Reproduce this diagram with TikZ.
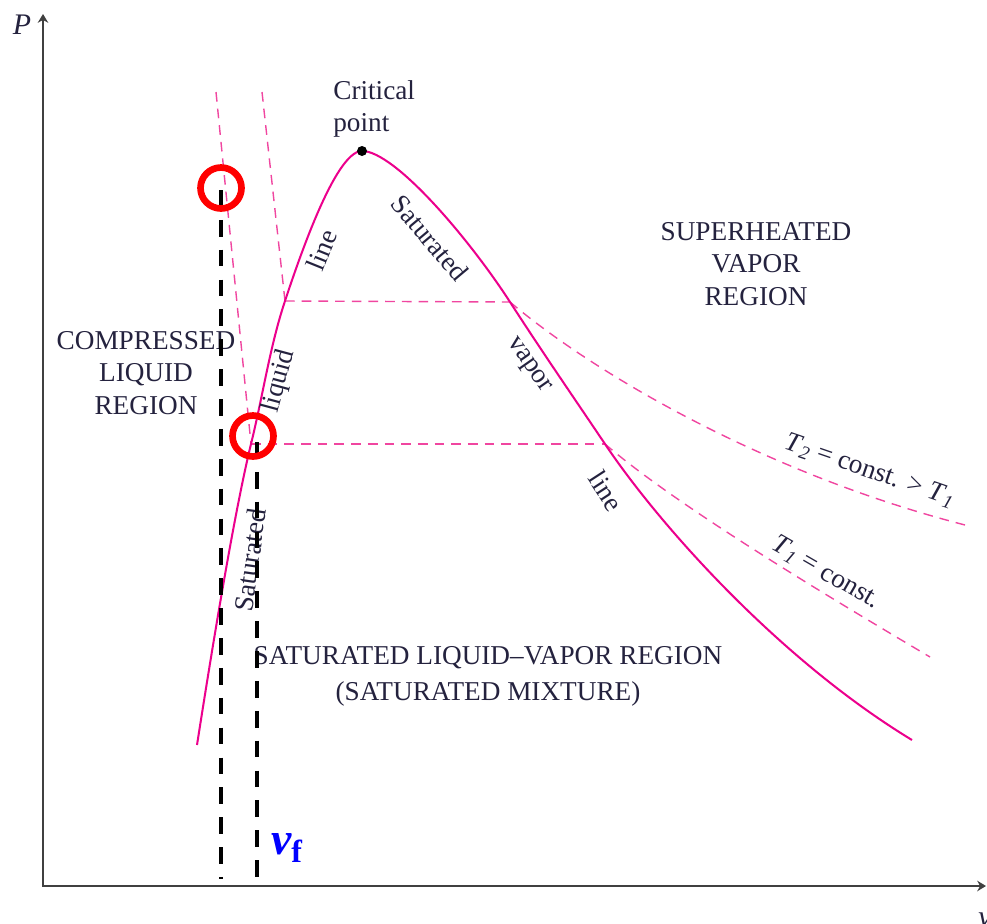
\documentclass[tikz,border=0pt]{standalone}
\usepackage{fontspec}
\setmainfont{Liberation Serif}
\usetikzlibrary{arrows.meta,positioning}

\definecolor{domepink}{RGB}{236,0,140}
\definecolor{isopink}{RGB}{240,70,160}
\definecolor{labelink}{RGB}{36,34,62}
\definecolor{markred}{RGB}{255,0,0}

\tikzset{
  axis/.style={line width=1.1pt, draw=black!75, line join=miter},
  dome/.style={line width=1.15pt, draw=domepink},
  isotherm/.style={line width=0.8pt, draw=isopink, dash pattern=on 5.5pt off 4pt},
  guide/.style={line width=2.3pt, draw=black, dash pattern=on 9.5pt off 7.5pt},
  marker/.style={circle, line width=3.8pt, draw=markred, minimum size=0.82cm, inner sep=0pt},
  region/.style={font=\fontsize{15.5}{18.7}\selectfont, text=labelink, align=center, inner sep=0pt},
  tag/.style={font=\fontsize{15.5}{18.7}\selectfont, text=labelink, inner sep=0pt},
}

\begin{document}
\begin{tikzpicture}[x=0.02cm, y=-0.02cm]
    \useasboundingbox (0,0) rectangle (987,923);

    % Key points of the diagram
    \coordinate (ptop) at (43,14);
    \coordinate (corner) at (43,886);
    \coordinate (vend) at (986,886);
    \coordinate (crit) at (362,151);
    \coordinate (liqtwo) at (285,301);
    \coordinate (vaptwo) at (510,302);
    \coordinate (liqone) at (251,444);
    \coordinate (vapone) at (605,444);
    \coordinate (lowtop) at (216,92);
    \coordinate (hightop) at (262,92);
    \coordinate (liqend) at (197,745);
    \coordinate (vapend) at (912,740);
    \coordinate (twoend) at (965,525);
    \coordinate (oneend) at (930,657);

    % Axes
    \draw[axis, {Stealth[length=5pt,width=6pt]}-{Stealth[length=5pt,width=6pt]}] (ptop) -- (corner) -- (vend);
    \node[tag, font=\fontsize{17}{20}\selectfont\itshape] (plabel) at (22,25) {P};
    \node[tag, font=\fontsize{17}{20}\selectfont\itshape] (vlabel) at (985,920) {v};

    % Isotherms in the compressed liquid region
    \draw[isotherm] (lowtop) -- (liqone);
    \draw[isotherm] (hightop) -- (liqtwo);

    % Isotherms across the mixture region
    \draw[isotherm] (liqtwo) -- (vaptwo);
    \draw[isotherm] (liqone) -- (vapone);

    % Isotherms in the superheated region
    \draw[isotherm] (vaptwo) .. controls (590,370) and (760,472) .. (twoend);
    \draw[isotherm] (vapone) .. controls (670,500) and (800,580) .. (oneend);

    % Saturation dome
    \draw[dome] (liqend) .. controls (215,630) and (235,510) .. (liqone)
        .. controls (263,395) and (270,346) .. (liqtwo)
        .. controls (310,225) and (340,151) .. (crit)
        .. controls (395,151) and (470,240) .. (vaptwo)
        .. controls (545,356) and (570,392) .. (vapone)
        .. controls (660,526) and (780,660) .. (vapend);
    \node[circle, fill=black, inner sep=0pt, minimum size=0.2cm] (critdot) at (crit) {};

    % Labels along the dome
    \node[tag, align=left, anchor=west] (critlabel) at (333,109) {Critical\\point};
    \node[tag, rotate=82] (satliqa) at (250,560) {Saturated};
    \node[tag, rotate=75] (satliqb) at (279,381) {liquid};
    \node[tag, rotate=68] (satliqc) at (322,250) {line};
    \node[tag, rotate=-50] (satvapa) at (430,238) {Saturated};
    \node[tag, rotate=-55] (satvapb) at (528,366) {vapor};
    \node[tag, rotate=-57] (satvapc) at (606,491) {line};

    % Region names
    \node[region] (compressed) at (146,373) {COMPRESSED\\LIQUID\\REGION};
    \node[region] (superheated) at (756,264) {SUPERHEATED\\VAPOR\\REGION};
    \node[region, font=\fontsize{15.5}{20.4}\selectfont] (mixture) at (488,676)
        {SATURATED LIQUID--VAPOR REGION\\(SATURATED MIXTURE)};

    % Isotherm names
    \node[tag, rotate=-19] (ttwo) at (870,471)
        {\textit{T}\textsubscript{\textit{2}} = const. > \textit{T}\textsubscript{\textit{1}}};
    \node[tag, rotate=-30] (tone) at (826,573) {\textit{T}\textsubscript{\textit{1}} = const.};

    % Guide lines down to the v axis
    \coordinate (guideatop) at (221,190);
    \coordinate (guideabot) at (221,879);
    \coordinate (guidebtop) at (257,442);
    \coordinate (guidebbot) at (257,879);
    \draw[guide] (guideatop) -- (guideabot);
    \draw[guide] (guidebtop) -- (guidebbot);

    % Marked states
    \node[marker] (marka) at (221,188) {};
    \node[marker] (markb) at (253,436) {};
    \node[inner sep=0pt, text=blue, font=\fontsize{26}{30}\selectfont\bfseries\itshape] (vf) at (287,848)
        {v\textsubscript{\upshape f}};
\end{tikzpicture}
\end{document}
